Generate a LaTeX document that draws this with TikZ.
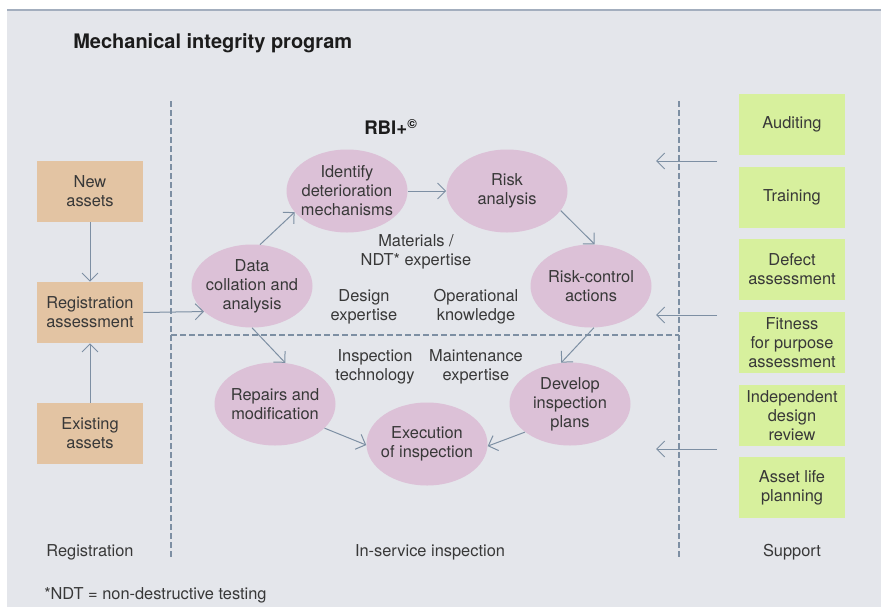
\documentclass[tikz,border=0pt]{standalone}
\usepackage{fontspec}
\setmainfont{TeX Gyre Heros}
\usetikzlibrary{shapes.geometric,arrows.meta}
\definecolor{bgc}{HTML}{E4E6EB}
\definecolor{topc}{HTML}{A3AEBE}
\definecolor{linec}{HTML}{7D8FA3}
\definecolor{orangec}{HTML}{E3C4A3}
\definecolor{greenc}{HTML}{D7F09D}
\definecolor{pinkc}{HTML}{DCC1D7}
\definecolor{txt}{HTML}{383838}
\definecolor{titlec}{HTML}{1C1C1C}
\begin{document}
\begin{tikzpicture}[x=0.75pt,y=-0.75pt,
  font=\fontsize{12.3}{14.3}\selectfont, text=txt,
  ell/.style={ellipse, fill=pinkc, minimum width=90.75pt, minimum height=62.25pt,
    inner xsep=-12pt, inner ysep=0pt, align=center},
  obox/.style={rectangle, fill=orangec, minimum width=79.5pt, minimum height=45.75pt,
    inner sep=0pt, align=center},
  gbox/.style={rectangle, fill=greenc, minimum width=79.5pt, minimum height=45.75pt,
    inner sep=0pt, align=center},
  arr/.style={draw=linec, line width=0.75pt, -{Straight Barb[length=6pt,width=12pt]}},
  sepline/.style={draw=linec, line width=0.9pt, dash pattern=on 4.5pt off 2.25pt},
  lbl/.style={align=center, inner sep=0pt}]

\useasboundingbox (0,0) rectangle (881,607);
\fill[white] (0,0) rectangle (881,607);
\fill[bgc] (7,10) rectangle (881,607);
\draw[topc, line width=1.5pt] (7,10) -- (881,10);

% title
\node[anchor=west, inner sep=0pt, text=titlec, font=\fontsize{15}{17}\selectfont\bfseries] (title) at (73,43) {Mechanical integrity program};
\node[anchor=west, inner sep=0pt, text=titlec, font=\fontsize{14}{16}\selectfont\bfseries] (rbi) at (364,127) {RBI+\textsuperscript{\textcopyright}};

% separators
\coordinate (v1t) at (171,101); \coordinate (v1b) at (171,560);
\coordinate (v2t) at (679,101); \coordinate (v2b) at (679,560);
\coordinate (hl) at (171,335); \coordinate (hr) at (679,335);
\draw[sepline] (v1t) -- (v1b);
\draw[sepline] (v2t) -- (v2b);
\draw[sepline] (hl) -- (hr);

% registration boxes
\node[obox] (new) at (90,191.5) {New\\assets};
\node[obox] (reg) at (90,312.5) {Registration\\assessment};
\node[obox] (exist) at (90,433.5) {Existing\\assets};

% support boxes
\node[gbox] (aud) at (792,124.5) {Auditing};
\node[gbox] (train) at (792,197) {Training};
\node[gbox] (defect) at (792,269.5) {Defect\\assessment};
\node[gbox] (fit) at (792,342.5) {Fitness\\for purpose\\assessment};
\node[gbox] (indep) at (792,415.5) {Independent\\design\\review};
\node[gbox] (life) at (792,487.5) {Asset life\\planning};

% ellipses
\node[ell] (data) at (252,286) {Data\\collation and\\analysis};
\node[ell] (ident) at (347,191) {Identify\\deterioration\\mechanisms};
\node[ell] (risk) at (507,191) {Risk\\analysis};
\node[ell] (rc) at (591,286) {Risk-control\\actions};
\node[ell] (dev) at (570,404) {Develop\\inspection\\plans};
\node[ell] (exec) at (427,444) {Execution\\of inspection};
\node[ell] (rep) at (275,404) {Repairs and\\modification};

% expertise labels
\node[lbl] (mat) at (416,252) {Materials /\\NDT* expertise};
\node[lbl] (des) at (364,307) {Design\\expertise};
\node[lbl] (oper) at (476,307) {Operational\\knowledge};
\node[lbl] (insp) at (375,367) {Inspection\\technology};
\node[lbl] (maint) at (476,367) {Maintenance\\expertise};

% bottom labels
\node[lbl] (lreg) at (90,552) {Registration};
\node[lbl] (lisi) at (430,552) {In-service inspection};
\node[lbl] (lsup) at (792,552) {Support};
\node[anchor=west, inner sep=0pt] (foot) at (44,595) {*NDT = non-destructive testing};

% arrows
\draw[arr] (new.south) -- (reg.north);
\draw[arr] (exist.north) -- (reg.south);
\draw[arr] (reg.east) -- (data.208);
\draw[arr] (data.79) -- (ident.202);
\draw[arr] (ident.east) -- (risk.west);
\draw[arr] (risk.340) -- (rc.85);
\draw[arr] (rc.274) -- (dev.102);
\draw[arr] (dev.212) -- (exec.358);
\draw[arr] (rep.334) -- (exec.181);
\draw[arr] (data.270) -- (rep.76);

\coordinate (s1) at (717,161); \coordinate (e1) at (656,161);
\coordinate (s2) at (717,315); \coordinate (e2) at (656,315);
\coordinate (s3) at (717,449); \coordinate (e3) at (656,449);
\draw[arr] (s1) -- (e1);
\draw[arr] (s2) -- (e2);
\draw[arr] (s3) -- (e3);
\end{tikzpicture}
\end{document}
